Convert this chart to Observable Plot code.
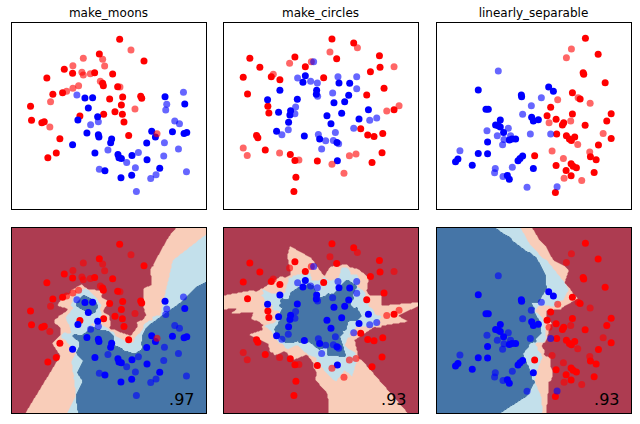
<!DOCTYPE html>
<html><head><meta charset="utf-8">
<script src="https://cdn.jsdelivr.net/npm/d3@7"></script>
<script src="https://cdn.jsdelivr.net/npm/@observablehq/plot@0.6"></script>
<style>
body{margin:0;background:#fff;font-family:"DejaVu Sans",sans-serif;}
#fig{position:relative;width:640px;height:424px;overflow:hidden;background:#fff;}
.panel{position:absolute;}
.title{position:absolute;font-size:12px;line-height:14px;text-align:center;color:#000;font-family:"DejaVu Sans",sans-serif;}
</style></head><body><div id="fig"></div>
<script>
// ---- data (units: chart units, x to the right, y upward) ----
const titles = ["make_moons", "make_circles", "linearly_separable"];
const scores = [".97", ".93", ".93"];

// make_moons
const moonsRedTrain = [[87.7,155.3],[52.7,140],[61,136],[83,136.6],[35.3,131.3],[91,126],[91.7,123.6],[51,116.6],[41.3,115],[98,110.3],[19,103],[68.3,93.3],[92,95],[20,89],[30.3,86.6],[32.7,87.6],[48.3,70.6],[44.7,56.3],[36.3,51.6],[108,170],[132.3,148.3],[101,135.3],[106,122.6],[111,112.3],[129,113],[130,111],[109.7,104.3],[103.3,97.6],[110.7,95],[112.3,87.3],[117,74]];
const moonsRedTest = [[71.7,151],[91,150],[93,143.3],[61.3,143.6],[70.3,137],[71.7,134.3],[78.7,135.6],[88.7,128],[67,123.6],[61.3,121],[55,118],[39,107.6],[38.3,82.3],[119.3,159.3],[108.3,122.3],[123.3,100.3],[145.3,75.6]];
const moonsBlueTrain = [[73.3,111.3],[81,111.6],[76.7,101.3],[86,92.6],[66.3,89.3],[75.3,76.3],[86.7,74.6],[87.3,72.3],[61,64.6],[100,70.5],[99,66.6],[83.3,56.3],[93.3,38.6],[153.3,112.6],[173,105.3],[140,78],[143.7,72.3],[160.7,77.6],[172.3,76],[175,77],[135,66.3],[106.3,55],[107.3,51.6],[109.7,51],[120.3,54],[135.3,49.6],[148,41.3],[109.3,31.6],[120,34.3]];
const moonsBlueTest = [[65.3,114.3],[79,84.6],[86.7,87.6],[96.3,59.3],[87.7,40.3],[171.7,117],[155,105],[154,99.3],[163,88.3],[167.7,85.6],[152.7,66.6],[126.7,57],[115,47],[152,53.3],[166.7,60.3],[123.7,41.6],[139,31],[144.3,34.6],[174.7,37.6],[124.7,18]];

// make_circles
const circlesRedTrain = [[26.3,151],[71.3,152.3],[36.3,142],[81.7,142.6],[19.7,132],[47.7,132.6],[56.3,129.6],[100,131.6],[24,115.3],[44.3,103],[45.3,96.3],[33,74],[34.3,71.6],[41.7,59.3],[66.7,55],[71.3,49],[93.7,48.3],[72.3,32.3],[70.3,18],[108.3,170.3],[130,166.3],[113,150.6],[155.7,153.6],[156.3,142],[146.7,137.6],[160.3,121],[143,114.3],[170.3,99.6],[137,80.6],[144,74.3],[150.3,73],[159,76],[158.3,56.6],[148.3,47]];
const circlesRedTest = [[66,146],[87.7,147.6],[49.7,135],[19.7,61.3],[23.7,54],[56,56.3],[75.3,49.3],[133.7,161.6],[106.3,157.3],[170.3,142.6],[175.3,103.6],[163,98.3],[125.7,53.6],[132.3,55.3],[108.3,45.3],[120.3,36.3]];
const circlesBlueTrain = [[81.7,133.6],[79.3,127],[93,119],[92.7,115],[56.3,119],[44,109.6],[73.7,110],[67,98.6],[66.3,94.3],[65,87],[55,97],[53,78],[80.7,73.3],[96,70.3],[115.3,126.3],[126,126],[125,114],[110.3,106.6],[121,107.6],[118,96],[103.3,93.6],[107.3,85.6],[144.7,99.6],[135.3,90.3],[113.3,67],[113.7,48.6]];
const circlesBlueTest = [[74,131.3],[87,128],[93.7,126.3],[94,113],[72,102.3],[71.3,95.6],[64.7,79.6],[58.3,74.6],[94.7,75],[98,60.3],[114.3,132.6],[133,132.6],[133,120.6],[109,116.3],[146,89],[153,91.3],[130,81],[111.7,77],[102,68.6],[109.7,69],[115,65.6],[90,147.6]];

// linearly_separable
const linearRedTrain = [[148.7,171],[161.4,155],[146.4,136.6],[147,135],[168.4,126.6],[135.7,116.6],[143.4,110.3],[114,102],[174.4,95.6],[110.4,93.6],[135.7,95.3],[119.4,90],[127,86.6],[125.7,84.3],[170,88.3],[148.4,84],[120,75.3],[129.7,73.6],[132.7,70.3],[134.7,69],[138,72.3],[174.4,71],[161.7,64.3],[98,53.6],[153.7,52.6],[159.4,49.6],[119.4,44],[134.4,45.6],[136.4,43.3],[139.7,41.6],[129.4,39],[157.4,37],[134.4,33.6],[118.7,17]];
const linearRedTest = [[134.7,160.3],[129.7,151.6],[121,109.6],[141.4,111.6],[153.4,106],[112.4,86.6],[134,88.3],[166.4,76],[141,65],[115.4,58.3],[153,57.3],[126.7,51],[127.4,31.3],[145,29]];
const linearBlueTrain = [[41.7,119.3],[84.7,114.3],[85,112.6],[49.4,100],[51.7,100],[95,92],[96.7,88.3],[63.7,89.3],[59,84.3],[61.7,83.6],[63.7,82.3],[67,77],[72.7,69.3],[75.4,70.3],[79,70.3],[51,67.3],[41.7,56],[51,55.6],[21.4,50.3],[19,47.6],[35.7,44.3],[86,53.3],[83.4,51],[81.4,48.6],[70.7,34],[72.7,30.3],[112,122.3],[116.7,118],[101.7,89.6],[96.7,41]];
const linearBlueTest = [[61.7,138.3],[94.7,103.6],[86,95],[71.7,81],[50.4,78.6],[60.7,73.6],[74,73.6],[67.4,70],[93.7,75.3],[66,64.6],[23.4,58.6],[75.7,42.3],[58.7,41],[58,36.6],[66.4,33],[90.4,22.3],[104.7,111.6],[114,75.3],[120.4,22.6]];

// ---- layout / style ----
const XMAX = 194.7, YMAX = 186.7;
const colLefts = [11, 223, 436];
const rowTops = [22, 227];
const rowHeights = [187, 186];
const PW = 195;
const pointColors = ["#ff0000", "#0000ff"];
const regionColors = ["#ad3c51", "#f9cdb9", "#c3e0eb", "#4575a7"];

function rows(arr, cls) { return arr.map(([x, y]) => ({x, y, cls})); }
const datasets = [
  {train: [...rows(moonsRedTrain,0), ...rows(moonsBlueTrain,1)], test: [...rows(moonsRedTest,0), ...rows(moonsBlueTest,1)]},
  {train: [...rows(circlesRedTrain,0), ...rows(circlesBlueTrain,1)], test: [...rows(circlesRedTest,0), ...rows(circlesBlueTest,1)]},
  {train: [...rows(linearRedTrain,0), ...rows(linearBlueTrain,1)], test: [...rows(linearRedTest,0), ...rows(linearBlueTest,1)]}
];

// 3-nearest-neighbour probability of the blue class, in standardized space
function makeKnn(ds) {
  const all = [...ds.train, ...ds.test];
  const sx = d3.deviation(all, d => d.x), sy = d3.deviation(all, d => d.y);
  const tr = ds.train.map(d => [d.x / sx, d.y / sy, d.cls]);
  const cache = new Map();
  return (x, y) => {
    const key = x + "," + y;
    if (cache.has(key)) return cache.get(key);
    const px = x / sx, py = y / sy;
    let d1 = Infinity, d2 = Infinity, d3_ = Infinity, c1 = 0, c2 = 0, c3 = 0;
    for (const [a, b, c] of tr) {
      const d = (a - px) ** 2 + (b - py) ** 2;
      if (d < d1) { d3_ = d2; c3 = c2; d2 = d1; c2 = c1; d1 = d; c1 = c; }
      else if (d < d2) { d3_ = d2; c3 = c2; d2 = d; c2 = c; }
      else if (d < d3_) { d3_ = d; c3 = c; }
    }
    const v = (c1 + c2 + c3) / 3;
    cache.set(key, v);
    return v;
  };
}

const fig = document.getElementById("fig");

function pointMarks(ds) {
  return [
    Plot.dot(ds.train, {x: "x", y: "y", r: 3.5, fill: "cls", stroke: "none"}),
    Plot.dot(ds.test, {x: "x", y: "y", r: 3.5, fill: "cls", fillOpacity: 0.6, stroke: "none"})
  ];
}

function regionMarks(ds) {
  const f = makeKnn(ds);
  const marks = [Plot.frame({fill: regionColors[0], stroke: "none"})];
  const th = [1/6, 1/2, 5/6];
  if (Plot.contour) {
    th.forEach((t, i) => {
      marks.push(Plot.contour({value: f, x1: 0, x2: XMAX, y1: 0, y2: YMAX, thresholds: [t],
        fill: regionColors[i + 1], stroke: i === 2 ? "#2d5f92" : "none", strokeWidth: 0.6, pixelSize: 1}));
    });
  } else {
    const cells = [];
    for (let x = 0; x < XMAX; x += 1.5) for (let y = 0; y < YMAX; y += 1.5) {
      const v = f(x + 0.75, y + 0.75);
      const k = v < th[0] ? 0 : v < th[1] ? 1 : v < th[2] ? 2 : 3;
      if (k > 0) cells.push({x1: x, x2: x + 1.5, y1: y, y2: y + 1.5, k});
    }
    marks.push(Plot.rect(cells, {x1: "x1", x2: "x2", y1: "y1", y2: "y2", fill: d => regionColors[d.k]}));
  }
  return marks;
}

for (let c = 0; c < 3; c++) {
  const ds = datasets[c];
  // title
  const t = document.createElement("div");
  t.className = "title";
  t.textContent = titles[c];
  t.style.left = colLefts[c] + "px";
  t.style.width = PW + "px";
  t.style.top = "6px";
  fig.appendChild(t);
  for (let r = 0; r < 2; r++) {
    const H = rowHeights[r];
    const marks = [];
    if (r === 1) marks.push(...regionMarks(ds));
    marks.push(...pointMarks(ds));
    if (r === 1) marks.push(Plot.text([scores[c]], {frameAnchor: "bottom-right", text: d => d, dx: -12, dy: -9,
      fontSize: 16, textAnchor: "end", lineAnchor: "bottom", fill: "#000"}));
    marks.push(Plot.frame({stroke: "#000", strokeWidth: 1}));
    const p = Plot.plot({
      width: PW + 2, height: H + 2,
      marginLeft: 1, marginRight: 1, marginTop: 1, marginBottom: 1,
      x: {domain: [0, XMAX], axis: null},
      y: {domain: [0, YMAX], axis: null},
      color: {type: "ordinal", domain: [0, 1], range: pointColors},
      style: {background: "transparent", overflow: "visible", fontFamily: "DejaVu Sans"},
      marks
    });
    p.classList.add("panel");
    p.style.left = (colLefts[c] - 1) + "px";
    p.style.top = (rowTops[r] - 1) + "px";
    fig.appendChild(p);
  }
}
</script></body></html>
